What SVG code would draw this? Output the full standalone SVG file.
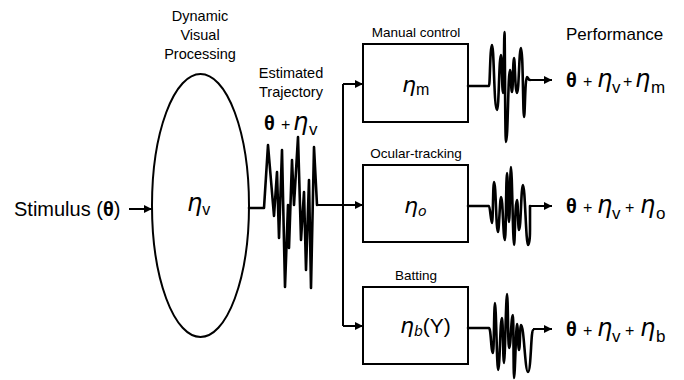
<svg xmlns="http://www.w3.org/2000/svg" width="684" height="380" viewBox="0 0 684 380">
<style>
text{font-family:"Liberation Sans",Arial,sans-serif;fill:#000}
.lbl{font-size:14.5px;text-anchor:middle}
.box{fill:#fff;stroke:#000;stroke-width:2}
.ln{fill:none;stroke:#000;stroke-width:2}
.wv{fill:none;stroke:#000;stroke-width:2.6;stroke-linejoin:round;stroke-linecap:round}
.eta{font-family:"DejaVu Sans",sans-serif;font-style:italic}
.th{font-weight:bold}
.pl{font-size:16px}
.sb{font-size:17px}
</style>
<defs>
<marker id="ah" viewBox="0 0 10 10" refX="10" refY="5" markerWidth="9" markerHeight="8" markerUnits="userSpaceOnUse" orient="auto">
<path d="M0,0 L10,5 L0,10 z" fill="#000"/>
</marker>
</defs>
<rect width="684" height="380" fill="#fff"/>

<g id="stimulus">
<text x="14" y="216" style="font-size:20px">Stimulus (<tspan class="th">θ</tspan>)</text>
</g>

<g id="visual-processing">
<text class="lbl" x="200" y="20.5">Dynamic</text>
<text class="lbl" x="200" y="40">Visual</text>
<text class="lbl" x="200" y="59">Processing</text>
<ellipse cx="200.5" cy="205.5" rx="48.5" ry="131.5" fill="#fff" stroke="#000" stroke-width="2"/>
<text x="187" y="211" style="font-size:24px"><tspan class="eta">η</tspan><tspan style="font-size:16px" dy="4">v</tspan></text>
</g>

<g id="estimated-trajectory">
<text class="lbl" x="291" y="78">Estimated</text>
<text class="lbl" x="291" y="97">Trajectory</text>
<text y="130" style="font-size:20px"><tspan class="th" x="264">θ</tspan><tspan class="pl" x="281">+</tspan><tspan class="eta" x="293" style="font-size:24px">η</tspan><tspan class="sb" x="309" dy="5">v</tspan></text>
</g>

<g id="manual-control">
<text x="416" y="37" style="font-size:13.5px;text-anchor:middle">Manual control</text>
<rect class="box" x="363" y="44" width="105" height="78"/>
<text x="402" y="92" style="font-size:22px"><tspan class="eta">η</tspan><tspan style="font-size:16px" dy="3">m</tspan></text>
</g>

<g id="ocular-tracking">
<text x="416" y="158" style="font-size:13.5px;text-anchor:middle">Ocular-tracking</text>
<rect class="box" x="363" y="165" width="105" height="77"/>
<text x="404" y="213" style="font-size:22px"><tspan class="eta">η</tspan><tspan class="eta" style="font-size:14px" dy="3">o</tspan></text>
</g>

<g id="batting">
<text x="416" y="280" style="font-size:13.5px;text-anchor:middle">Batting</text>
<rect class="box" x="363" y="287" width="105" height="77"/>
<text x="400" y="333" style="font-size:22px"><tspan class="eta">η</tspan><tspan class="eta" style="font-size:14px" dy="3">b</tspan><tspan dy="-3" style="font-size:21px">(Y)</tspan></text>
</g>

<g id="performance">
<text x="566" y="40" style="font-size:17px">Performance</text>
<text y="87" style="font-size:20px"><tspan class="th" x="566">θ</tspan><tspan class="pl" x="583">+</tspan><tspan class="eta" x="597" style="font-size:24px">η</tspan><tspan class="sb" x="612" dy="6">v</tspan><tspan class="pl" x="623" dy="-6">+</tspan><tspan class="eta" x="635" style="font-size:24px">η</tspan><tspan class="sb" x="651" dy="6">m</tspan></text>
<text y="212.5" style="font-size:20px"><tspan class="th" x="566">θ</tspan><tspan class="pl" x="583">+</tspan><tspan class="eta" x="597" style="font-size:24px">η</tspan><tspan class="sb" x="612" dy="6">v</tspan><tspan class="pl" x="625" dy="-6">+</tspan><tspan class="eta" x="640" style="font-size:24px">η</tspan><tspan class="sb" x="656" dy="6">o</tspan></text>
<text y="336" style="font-size:20px"><tspan class="th" x="566">θ</tspan><tspan class="pl" x="583">+</tspan><tspan class="eta" x="597" style="font-size:24px">η</tspan><tspan class="sb" x="612" dy="6">v</tspan><tspan class="pl" x="625" dy="-6">+</tspan><tspan class="eta" x="640" style="font-size:24px">η</tspan><tspan class="sb" x="656" dy="6">b</tspan></text>
</g>

<g id="connectors">
<line class="ln" x1="129" y1="209" x2="152" y2="209" marker-end="url(#ah)"/>
<path class="wv" d="M249,208 H264 L268,145 L274,216 L277,172 L279,238 L282,150 L285,287 L288,205 L289,248 L292,160 L294,205 L298,137 L301,240 L304,192 L306,270 L309,180 L311,288 L314,147 L317,205"/>
<path class="ln" d="M317,205 H363" marker-end="url(#ah)"/>
<path class="ln" d="M343,84 V326"/>
<path class="ln" d="M343,84 H363" marker-end="url(#ah)"/>
<path class="ln" d="M343,326 H363" marker-end="url(#ah)"/>
<path class="wv" d="M468,86 H489 C490,86 490,45 492,45 C494,45 494,110 497,110 C499,110 499,55 501,55 C502,55 502,93 503,93 C504,93 504,32 504.5,32 C505,32 505,142 506,142 C508,142 508,70 510,70 C511,70 511,92 512,92 C513,92 513,58 514,58 C515,58 515,93 517,93 C519,93 519,48 521,48 C523,48 523,117 524,117 C525,117 525,77 527,77 C528,77 528,80 530,80"/>
<path class="ln" d="M530,80 H552" marker-end="url(#ah)"/>
<path class="wv" d="M468,206 H489 C490,206 491,223 492,223 C493,223 493,182 494,182 C496,182 496,232 498,232 C499,232 500,197 501,197 C503,197 503,240 505,240 C506,240 506,173 507,173 C508,173 508,222 509,222 C510,222 510,167 511,167 C512,167 513,245 514,245 C515,245 515,200 517,200 C518,200 518,230 519,230 C521,230 521,185 523,185 C525,185 526,245 528,245 C529,245 530,240 530,230 V206"/>
<path class="ln" d="M530,206 H552" marker-end="url(#ah)"/>
<path class="wv" d="M468,328 H489 C491,328 491,353 493,353 C494,353 494,303 495,303 C496,303 497,370 498,370 C500,370 500,318 502,318 C503,318 503,363 504,363 C505,363 506,294 507,294 C508,294 508,348 509,348 C511,348 511,315 513,315 C513.5,315 513.5,378 514,378 C515,378 516,324 517,324 C518,324 518,350 519,350 C520,350 520,325 521,325 C524,325 525,372 528,372 C531,372 531,330 533,330"/>
<path class="ln" d="M533,329 H552" marker-end="url(#ah)"/>
</g>
</svg>
